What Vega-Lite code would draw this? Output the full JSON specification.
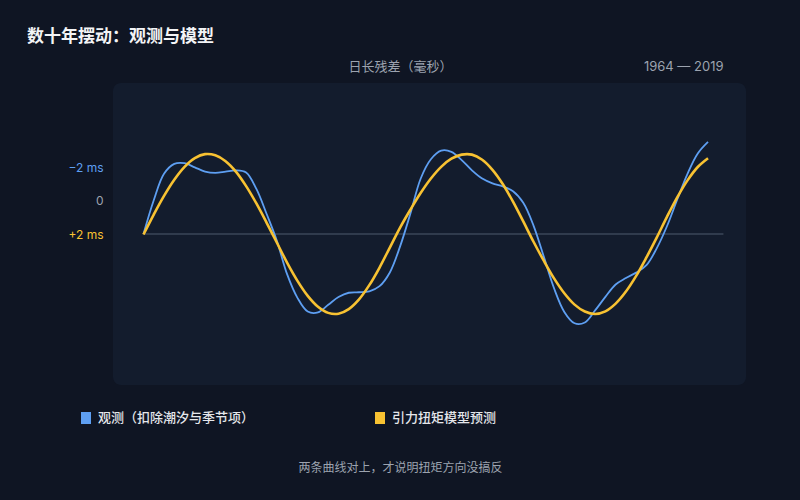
{
  "$schema": "https://vega.github.io/schema/vega-lite/v6.json",
  "width": 633,
  "height": 302,
  "autosize": {"type": "none"},
  "padding": {"left": 113, "top": 83, "right": 54, "bottom": 115},
  "background": "#0f1523",
  "title": {
    "text": "数十年摆动：观测与模型",
    "anchor": "start",
    "frame": "group",
    "dx": -86,
    "offset": 14,
    "fontSize": 17,
    "fontWeight": 700,
    "color": "#f3f4f6",
    "font": "Inter, Noto Sans CJK SC"
  },
  "config": {
    "view": {"fill": "#131c2d", "stroke": null, "cornerRadius": 8},
    "font": "Inter, Noto Sans CJK SC"
  },
  "datasets": {
    "baseline": [{"start": 1964, "end": 2020.5, "level": 2}],
    "observed": [
      {"year": 1964, "ms": 2.00, "series": "观测（扣除潮汐与季节项）"},
      {"year": 1965, "ms": -0.05, "series": "观测（扣除潮汐与季节项）"},
      {"year": 1966, "ms": -1.65, "series": "观测（扣除潮汐与季节项）"},
      {"year": 1967, "ms": -2.25, "series": "观测（扣除潮汐与季节项）"},
      {"year": 1968, "ms": -2.29, "series": "观测（扣除潮汐与季节项）"},
      {"year": 1969, "ms": -2.04, "series": "观测（扣除潮汐与季节项）"},
      {"year": 1970, "ms": -1.78, "series": "观测（扣除潮汐与季节项）"},
      {"year": 1971, "ms": -1.70, "series": "观测（扣除潮汐与季节项）"},
      {"year": 1972, "ms": -1.78, "series": "观测（扣除潮汐与季节项）"},
      {"year": 1973, "ms": -1.86, "series": "观测（扣除潮汐与季节项）"},
      {"year": 1974, "ms": -1.73, "series": "观测（扣除潮汐与季节项）"},
      {"year": 1975, "ms": -0.73, "series": "观测（扣除潮汐与季节项）"},
      {"year": 1976, "ms": 0.79, "series": "观测（扣除潮汐与季节项）"},
      {"year": 1977, "ms": 2.42, "series": "观测（扣除潮汐与季节项）"},
      {"year": 1978, "ms": 4.45, "series": "观测（扣除潮汐与季节项）"},
      {"year": 1979, "ms": 5.87, "series": "观测（扣除潮汐与季节项）"},
      {"year": 1980, "ms": 6.70, "series": "观测（扣除潮汐与季节项）"},
      {"year": 1981, "ms": 6.75, "series": "观测（扣除潮汐与季节项）"},
      {"year": 1982, "ms": 6.29, "series": "观测（扣除潮汐与季节项）"},
      {"year": 1983, "ms": 5.82, "series": "观测（扣除潮汐与季节项）"},
      {"year": 1984, "ms": 5.56, "series": "观测（扣除潮汐与季节项）"},
      {"year": 1985, "ms": 5.53, "series": "观测（扣除潮汐与季节项）"},
      {"year": 1986, "ms": 5.47, "series": "观测（扣除潮汐与季节项）"},
      {"year": 1987, "ms": 5.16, "series": "观测（扣除潮汐与季节项）"},
      {"year": 1988, "ms": 4.33, "series": "观测（扣除潮汐与季节项）"},
      {"year": 1989, "ms": 2.75, "series": "观测（扣除潮汐与季节项）"},
      {"year": 1990, "ms": 0.77, "series": "观测（扣除潮汐与季节项）"},
      {"year": 1991, "ms": -1.35, "series": "观测（扣除潮汐与季节项）"},
      {"year": 1992, "ms": -2.53, "series": "观测（扣除潮汐与季节项）"},
      {"year": 1993, "ms": -3.05, "series": "观测（扣除潮汐与季节项）"},
      {"year": 1994, "ms": -2.98, "series": "观测（扣除潮汐与季节项）"},
      {"year": 1995, "ms": -2.48, "series": "观测（扣除潮汐与季节项）"},
      {"year": 1996, "ms": -1.86, "series": "观测（扣除潮汐与季节项）"},
      {"year": 1997, "ms": -1.36, "series": "观测（扣除潮汐与季节项）"},
      {"year": 1998, "ms": -1.07, "series": "观测（扣除潮汐与季节项）"},
      {"year": 1999, "ms": -0.88, "series": "观测（扣除潮汐与季节项）"},
      {"year": 2000, "ms": -0.59, "series": "观测（扣除潮汐与季节项）"},
      {"year": 2001, "ms": 0.11, "series": "观测（扣除潮汐与季节项）"},
      {"year": 2002, "ms": 1.49, "series": "观测（扣除潮汐与季节项）"},
      {"year": 2003, "ms": 3.37, "series": "观测（扣除潮汐与季节项）"},
      {"year": 2004, "ms": 5.29, "series": "观测（扣除潮汐与季节项）"},
      {"year": 2005, "ms": 6.72, "series": "观测（扣除潮汐与季节项）"},
      {"year": 2006, "ms": 7.41, "series": "观测（扣除潮汐与季节项）"},
      {"year": 2007, "ms": 7.36, "series": "观测（扣除潮汐与季节项）"},
      {"year": 2008, "ms": 6.63, "series": "观测（扣除潮汐与季节项）"},
      {"year": 2009, "ms": 5.81, "series": "观测（扣除潮汐与季节项）"},
      {"year": 2010, "ms": 5.06, "series": "观测（扣除潮汐与季节项）"},
      {"year": 2011, "ms": 4.67, "series": "观测（扣除潮汐与季节项）"},
      {"year": 2012, "ms": 4.34, "series": "观测（扣除潮汐与季节项）"},
      {"year": 2013, "ms": 3.89, "series": "观测（扣除潮汐与季节项）"},
      {"year": 2014, "ms": 2.87, "series": "观测（扣除潮汐与季节项）"},
      {"year": 2015, "ms": 1.53, "series": "观测（扣除潮汐与季节项）"},
      {"year": 2016, "ms": -0.09, "series": "观测（扣除潮汐与季节项）"},
      {"year": 2017, "ms": -1.65, "series": "观测（扣除潮汐与季节项）"},
      {"year": 2018, "ms": -2.88, "series": "观测（扣除潮汐与季节项）"},
      {"year": 2019, "ms": -3.58, "series": "观测（扣除潮汐与季节项）"}
    ],
    "model": [
      {"year": 1964, "ms": 2.03, "series": "引力扭矩模型预测"},
      {"year": 1965, "ms": 0.82, "series": "引力扭矩模型预测"},
      {"year": 1966, "ms": -0.31, "series": "引力扭矩模型预测"},
      {"year": 1967, "ms": -1.29, "series": "引力扭矩模型预测"},
      {"year": 1968, "ms": -2.07, "series": "引力扭矩模型预测"},
      {"year": 1969, "ms": -2.60, "series": "引力扭矩模型预测"},
      {"year": 1970, "ms": -2.84, "series": "引力扭矩模型预测"},
      {"year": 1971, "ms": -2.77, "series": "引力扭矩模型预测"},
      {"year": 1972, "ms": -2.41, "series": "引力扭矩模型预测"},
      {"year": 1973, "ms": -1.78, "series": "引力扭矩模型预测"},
      {"year": 1974, "ms": -0.90, "series": "引力扭矩模型预测"},
      {"year": 1975, "ms": 0.15, "series": "引力扭矩模型预测"},
      {"year": 1976, "ms": 1.32, "series": "引力扭矩模型预测"},
      {"year": 1977, "ms": 2.53, "series": "引力扭矩模型预测"},
      {"year": 1978, "ms": 3.75, "series": "引力扭矩模型预测"},
      {"year": 1979, "ms": 4.84, "series": "引力扭矩模型预测"},
      {"year": 1980, "ms": 5.75, "series": "引力扭矩模型预测"},
      {"year": 1981, "ms": 6.41, "series": "引力扭矩模型预测"},
      {"year": 1982, "ms": 6.78, "series": "引力扭矩模型预测"},
      {"year": 1983, "ms": 6.83, "series": "引力扭矩模型预测"},
      {"year": 1984, "ms": 6.55, "series": "引力扭矩模型预测"},
      {"year": 1985, "ms": 5.96, "series": "引力扭矩模型预测"},
      {"year": 1986, "ms": 5.10, "series": "引力扭矩模型预测"},
      {"year": 1987, "ms": 4.03, "series": "引力扭矩模型预测"},
      {"year": 1988, "ms": 2.82, "series": "引力扭矩模型预测"},
      {"year": 1989, "ms": 1.61, "series": "引力扭矩模型预测"},
      {"year": 1990, "ms": 0.53, "series": "引力扭矩模型预测"},
      {"year": 1991, "ms": -0.48, "series": "引力扭矩模型预测"},
      {"year": 1992, "ms": -1.36, "series": "引力扭矩模型预测"},
      {"year": 1993, "ms": -2.07, "series": "引力扭矩模型预测"},
      {"year": 1994, "ms": -2.56, "series": "引力扭矩模型预测"},
      {"year": 1995, "ms": -2.81, "series": "引力扭矩模型预测"},
      {"year": 1996, "ms": -2.81, "series": "引力扭矩模型预测"},
      {"year": 1997, "ms": -2.50, "series": "引力扭矩模型预测"},
      {"year": 1998, "ms": -1.89, "series": "引力扭矩模型预测"},
      {"year": 1999, "ms": -1.03, "series": "引力扭矩模型预测"},
      {"year": 2000, "ms": 0.04, "series": "引力扭矩模型预测"},
      {"year": 2001, "ms": 1.24, "series": "引力扭矩模型预测"},
      {"year": 2002, "ms": 2.47, "series": "引力扭矩模型预测"},
      {"year": 2003, "ms": 3.62, "series": "引力扭矩模型预测"},
      {"year": 2004, "ms": 4.69, "series": "引力扭矩模型预测"},
      {"year": 2005, "ms": 5.59, "series": "引力扭矩模型预测"},
      {"year": 2006, "ms": 6.28, "series": "引力扭矩模型预测"},
      {"year": 2007, "ms": 6.70, "series": "引力扭矩模型预测"},
      {"year": 2008, "ms": 6.85, "series": "引力扭矩模型预测"},
      {"year": 2009, "ms": 6.69, "series": "引力扭矩模型预测"},
      {"year": 2010, "ms": 6.22, "series": "引力扭矩模型预测"},
      {"year": 2011, "ms": 5.49, "series": "引力扭矩模型预测"},
      {"year": 2012, "ms": 4.54, "series": "引力扭矩模型预测"},
      {"year": 2013, "ms": 3.42, "series": "引力扭矩模型预测"},
      {"year": 2014, "ms": 2.22, "series": "引力扭矩模型预测"},
      {"year": 2015, "ms": 0.96, "series": "引力扭矩模型预测"},
      {"year": 2016, "ms": -0.22, "series": "引力扭矩模型预测"},
      {"year": 2017, "ms": -1.25, "series": "引力扭矩模型预测"},
      {"year": 2018, "ms": -2.06, "series": "引力扭矩模型预测"},
      {"year": 2019, "ms": -2.59, "series": "引力扭矩模型预测"}
    ]
  },
  "layer": [
    {
      "data": {"name": "baseline"},
      "mark": {"type": "rule", "color": "#3b4658", "strokeWidth": 1.5},
      "encoding": {
        "x": {
          "field": "start",
          "type": "quantitative",
          "scale": {"domain": [1961.03, 2022.7], "nice": false, "zero": false},
          "axis": {
            "orient": "bottom",
            "title": "两条曲线对上，才说明扭矩方向没搞反",
            "labels": false,
            "ticks": false,
            "domain": false,
            "grid": false,
            "titleX": 287,
            "titleY": 86.5,
            "titleAlign": "center",
            "titleBaseline": "alphabetic",
            "titleColor": "#9ca3af",
            "titleFontSize": 12,
            "titleFontWeight": 400
          }
        },
        "x2": {"field": "end"},
        "y": {
          "field": "level",
          "type": "quantitative",
          "scale": {"domain": [-7.15, 11.15], "reverse": true, "nice": false, "zero": false},
          "axis": {
            "values": [-2, 0, 2],
            "labelExpr": "datum.value < 0 ? '−2 ms' : datum.value > 0 ? '+2 ms' : '0'",
            "labelColor": {
              "condition": [
                {"test": "datum.value < 0", "value": "#5e9ff2"},
                {"test": "datum.value > 0", "value": "#f8c232"}
              ],
              "value": "#9ca3af"
            },
            "labelFontSize": 12,
            "labelPadding": 10,
            "tickSize": 0,
            "ticks": false,
            "domain": false,
            "grid": false,
            "title": "日长残差（毫秒）",
            "titleAngle": 0,
            "titleX": 287,
            "titleY": -13,
            "titleAlign": "center",
            "titleBaseline": "alphabetic",
            "titleColor": "#9ca3af",
            "titleFontSize": 13,
            "titleFontWeight": 400
          }
        }
      }
    },
    {
      "data": {"name": "observed"},
      "mark": {"type": "line", "interpolate": "catmull-rom", "strokeWidth": 1.8},
      "encoding": {
        "x": {
          "field": "year",
          "type": "quantitative",
          "scale": {"domain": [1961.03, 2022.7], "nice": false, "zero": false},
          "axis": {
            "orient": "top",
            "title": "1964 — 2019",
            "labels": false,
            "ticks": false,
            "domain": false,
            "grid": false,
            "titleX": 610,
            "titleY": -13,
            "titleAlign": "right",
            "titleBaseline": "alphabetic",
            "titleColor": "#9ca3af",
            "titleFontSize": 13,
            "titleFontWeight": 400
          }
        },
        "y": {
          "field": "ms",
          "type": "quantitative",
          "scale": {"domain": [-7.15, 11.15], "reverse": true, "nice": false, "zero": false}
        },
        "color": {
          "field": "series",
          "type": "nominal",
          "scale": {
            "domain": ["观测（扣除潮汐与季节项）", "引力扭矩模型预测"],
            "range": ["#5e9ff2", "#f8c232"]
          },
          "legend": {
            "title": null,
            "orient": "none",
            "direction": "horizontal",
            "legendX": -38,
            "legendY": 324,
            "symbolType": "M0,-1L0,1",
            "symbolSize": 144,
            "symbolStrokeWidth": 10,
            "labelOffset": 1,
            "columnPadding": 105,
            "labelFontSize": 13,
            "labelFontWeight": 500,
            "labelColor": "#e5e7eb",
            "padding": 0
          }
        }
      }
    },
    {
      "data": {"name": "model"},
      "mark": {"type": "line", "interpolate": "catmull-rom", "strokeWidth": 2.6},
      "encoding": {
        "x": {
          "field": "year",
          "type": "quantitative",
          "scale": {"domain": [1961.03, 2022.7], "nice": false, "zero": false},
          "axis": null
        },
        "y": {
          "field": "ms",
          "type": "quantitative",
          "scale": {"domain": [-7.15, 11.15], "reverse": true, "nice": false, "zero": false}
        },
        "color": {"field": "series", "type": "nominal"}
      }
    }
  ],
  "resolve": {"axis": {"x": "independent"}}
}
